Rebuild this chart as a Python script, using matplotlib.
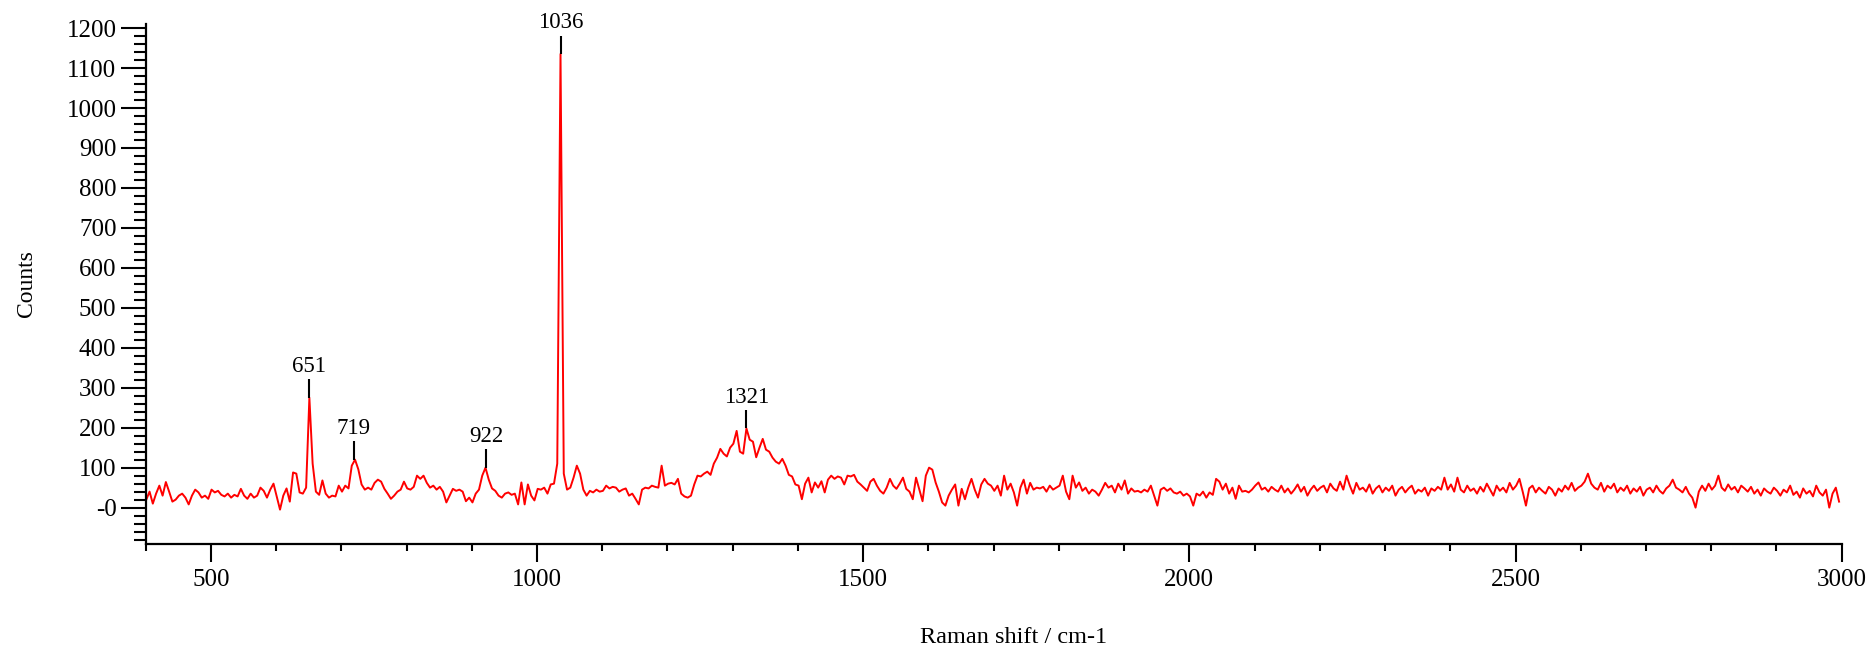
import numpy as np
import matplotlib
matplotlib.use("Agg")
import matplotlib.pyplot as plt
from matplotlib.ticker import FixedLocator, FixedFormatter, MultipleLocator

# Raman spectrum, sampled every 5 cm-1 from 401 to 2996 cm-1
raman_shift = np.arange(401, 3000, 5)

counts = [
    # 401 - 496
    20, 40, 10, 35, 55, 30, 64, 40, 15, 20, 30, 35, 25, 8, 30, 45, 38, 25, 30, 22,
    # 501 - 596
    45, 38, 42, 32, 28, 35, 25, 32, 28, 47, 30, 22, 35, 25, 30, 50, 42, 25, 45, 60,
    # 601 - 696
    28, -5, 30, 48, 15, 88, 85, 38, 35, 50, 275, 110, 40, 32, 68, 35, 25, 30, 28, 55,
    # 701 - 796
    40, 55, 48, 105, 120, 96, 58, 45, 50, 45, 62, 70, 65, 47, 35, 22, 30, 40, 45, 65,
    # 801 - 896
    48, 45, 52, 80, 72, 80, 62, 50, 55, 45, 52, 40, 13, 30, 47, 42, 45, 40, 16, 25,
    # 901 - 996
    13, 35, 45, 80, 100, 70, 48, 42, 30, 25, 35, 38, 32, 35, 8, 63, 8, 58, 30, 18,
    # 1001 - 1096
    47, 45, 50, 35, 58, 60, 110, 1135, 85, 45, 50, 75, 105, 85, 45, 30, 42, 38, 45, 40,
    # 1101 - 1196
    42, 55, 48, 52, 50, 40, 45, 48, 30, 35, 22, 8, 45, 50, 48, 55, 52, 50, 105, 55,
    # 1201 - 1296
    60, 62, 58, 72, 35, 28, 25, 30, 58, 80, 78, 85, 90, 82, 110, 125, 147, 135, 128, 150,
    # 1301 - 1396
    160, 192, 140, 135, 198, 170, 165, 126, 150, 172, 145, 140, 125, 115, 110, 122, 105, 82, 78, 58,
    # 1401 - 1496
    55, 21, 60, 75, 38, 63, 50, 66, 38, 70, 80, 72, 78, 75, 58, 80, 78, 82, 65, 58,
    # 1501 - 1596
    50, 42, 65, 72, 55, 42, 35, 50, 72, 55, 47, 60, 75, 47, 40, 21, 75, 45, 16, 80,
    # 1601 - 1696
    100, 95, 63, 40, 13, 5, 30, 45, 58, 5, 47, 21, 50, 72, 45, 25, 58, 72, 60, 55,
    # 1701 - 1796
    42, 55, 30, 80, 45, 60, 38, 5, 50, 70, 35, 62, 45, 50, 48, 52, 40, 55, 45, 50,
    # 1801 - 1896
    55, 80, 40, 21, 80, 50, 63, 42, 50, 35, 45, 40, 30, 45, 62, 50, 55, 38, 60, 45,
    # 1901 - 1996
    68, 35, 48, 40, 42, 38, 45, 40, 55, 30, 5, 45, 50, 42, 48, 38, 35, 40, 30, 35,
    # 2001 - 2096
    28, 5, 35, 30, 40, 25, 38, 32, 72, 65, 45, 60, 35, 50, 22, 55, 40, 42, 38, 45,
    # 2101 - 2196
    55, 63, 45, 50, 40, 52, 45, 40, 55, 38, 48, 35, 45, 58, 40, 52, 30, 45, 55, 42,
    # 2201 - 2296
    50, 55, 38, 60, 48, 42, 65, 45, 80, 55, 35, 62, 45, 50, 40, 58, 35, 48, 55, 38,
    # 2301 - 2396
    50, 42, 55, 30, 45, 52, 38, 48, 55, 35, 45, 40, 50, 30, 48, 42, 52, 45, 75, 45,
    # 2401 - 2496
    58, 40, 75, 45, 38, 55, 42, 48, 35, 52, 40, 60, 45, 30, 55, 42, 50, 38, 62, 45,
    # 2501 - 2596
    55, 72, 40, 5, 48, 55, 38, 50, 42, 35, 52, 45, 30, 48, 40, 55, 45, 62, 42, 50,
    # 2601 - 2696
    55, 65, 85, 60, 50, 45, 62, 40, 55, 48, 60, 38, 50, 42, 55, 35, 48, 40, 52, 30,
    # 2701 - 2796
    45, 50, 38, 55, 42, 35, 48, 55, 70, 50, 45, 38, 52, 35, 25, 0, 40, 55, 42, 60,
    # 2801 - 2896
    45, 55, 80, 50, 42, 58, 45, 52, 38, 55, 48, 40, 52, 35, 45, 30, 48, 40, 35, 50,
    # 2901 - 2996
    42, 30, 45, 38, 55, 32, 40, 25, 48, 35, 42, 28, 55, 38, 30, 45, 0, 35, 50, 15,
]

# labelled band positions (cm-1)
peak_shifts = [651, 719, 922, 1036, 1321]

y_ticks = [0, 100, 200, 300, 400, 500, 600, 700, 800, 900, 1000, 1100, 1200]
y_tick_labels = ["-0", "100", "200", "300", "400", "500", "600", "700",
                 "800", "900", "1000", "1100", "1200"]
x_ticks = [500, 1000, 1500, 2000, 2500, 3000]
x_tick_labels = ["500", "1000", "1500", "2000", "2500", "3000"]

plt.rcParams['font.family'] = ['Liberation Serif', 'DejaVu Serif']

fig = plt.figure(figsize=(18.72, 6.51), dpi=100)
ax = fig.add_axes([0.0778, 0.165, 0.906, 0.798])

counts = np.array(counts)
ax.plot(raman_shift, counts, color='#ff0000', linewidth=1.4)

# peak markers: short black stem above each band with its position
for p in peak_shifts:
    near = np.abs(raman_shift - p) <= 3
    top = counts[near].max()
    ax.vlines(p, top, top + 46, color='black', linewidth=1.5)
    ax.text(p, top + 52, str(p), ha='center', va='bottom', fontsize=16.5,
            color='black', clip_on=False)

ax.set_xlim(400, 3000)
ax.set_ylim(-90, 1210)

ax.spines['top'].set_visible(False)
ax.spines['right'].set_visible(False)
for side in ('left', 'bottom'):
    ax.spines[side].set_linewidth(1.6)

ax.xaxis.set_major_locator(FixedLocator(x_ticks))
ax.xaxis.set_major_formatter(FixedFormatter(x_tick_labels))
ax.xaxis.set_minor_locator(MultipleLocator(100))
ax.yaxis.set_major_locator(FixedLocator(y_ticks))
ax.yaxis.set_major_formatter(FixedFormatter(y_tick_labels))
ax.yaxis.set_minor_locator(MultipleLocator(20))

ax.tick_params(axis='x', which='major', length=13, width=1.5, pad=5, labelsize=18)
ax.tick_params(axis='x', which='minor', length=5, width=1.5)
ax.tick_params(axis='y', which='major', length=18, width=1.5, pad=3, labelsize=18)
ax.tick_params(axis='y', which='minor', length=9, width=1.5)

ax.set_xlabel('Raman shift / cm-1', fontsize=17.5)
ax.set_ylabel('Counts', fontsize=17)
ax.xaxis.set_label_coords(0.512, -0.16)
ax.yaxis.set_label_coords(-0.064, 0.5)

fig.savefig('out.png', dpi=100)
